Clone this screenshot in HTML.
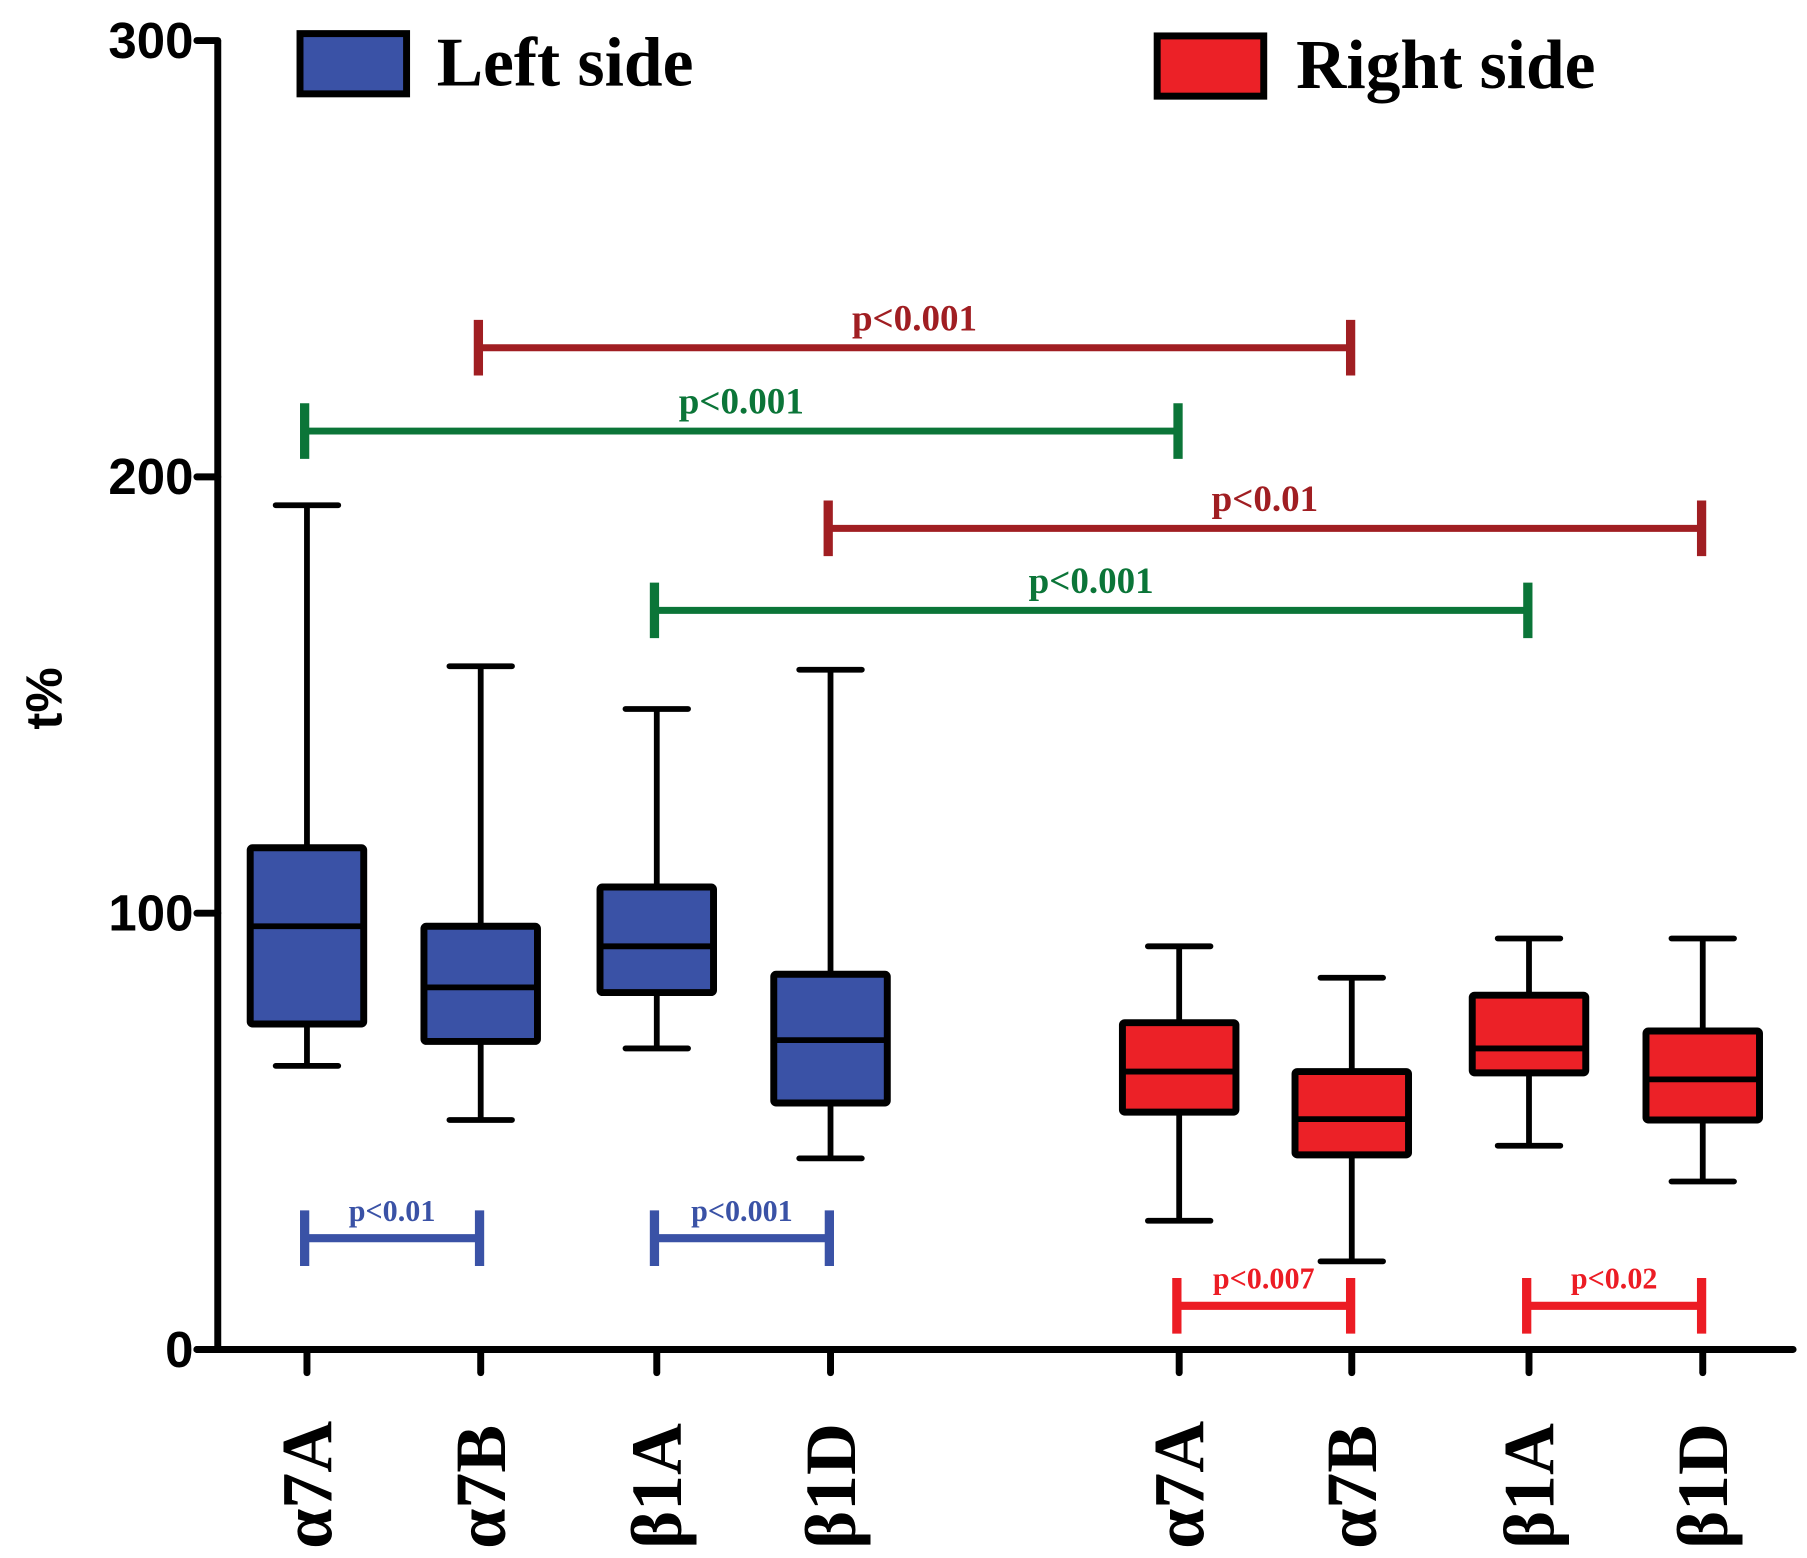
<!DOCTYPE html>
<html><head><meta charset="utf-8"><style>html,body{margin:0;padding:0;background:#fff}svg{display:block}</style></head>
<body>
<svg id="chart" width="1807" height="1558" viewBox="0 0 1560 1345" xmlns="http://www.w3.org/2000/svg">
<g id="axes"></g><g id="boxes"></g><g id="sig"></g>
<g>
<rect x="259" y="29" width="92" height="52" fill="#3a52a6" stroke="#000" stroke-width="6"/>
<text x="377" y="74" font-family="Liberation Serif, serif" font-weight="bold" font-size="60">Left side</text>
<rect x="999" y="31" width="92" height="52" fill="#ec2127" stroke="#000" stroke-width="6"/>
<text x="1119" y="76" font-family="Liberation Serif, serif" font-weight="bold" font-size="60">Right side</text>
</g>
<text transform="translate(53,603) rotate(-90)" text-anchor="middle" font-family="Liberation Sans, sans-serif" font-weight="bold" font-size="44">t%</text>
</svg>
<script>
const categories = ["α7A","α7B","β1A","β1D","α7A","α7B","β1A","β1D"];
const groups = ["left","left","left","left","right","right","right","right"];
const whiskerMax = [193.5,156.6,146.8,155.8,92.4,85.2,94.2,94.2];
const q3 = [115,97,106,86,74.9,63.7,81.2,73];
const median = [97,83,92.4,70.9,63.7,52.8,69,61.9];
const q1 = [74.6,70.6,81.8,56.5,54.4,44.6,63.4,52.6];
const whiskerMin = [65,52.6,69,43.8,29.5,20.2,46.7,38.5];
const yTicks = [0,100,200,300];
const sigFrom = [1,0,3,2,0,2,4,6];
const sigTo = [5,4,7,6,1,3,5,7];
const sigValue = [229.6,210.5,188.2,169.4,25.5,25.5,10,10];
const sigLabels = ["p<0.001","p<0.001","p<0.01","p<0.001","p<0.01","p<0.001","p<0.007","p<0.02"];
const sigColors = ["#a01e22","#0b7538","#a01e22","#0b7538","#3a52a6","#3a52a6","#ec1c24","#ec1c24"];

const NS="http://www.w3.org/2000/svg";
const catX=[265,415,567,717,1018,1167,1320,1470];
function y(v){return 1165 - v*(1130/300);}
function x(i){return catX[i];}
function mk(tag,attrs,parent){const e=document.createElementNS(NS,tag);for(const k in attrs)e.setAttribute(k,attrs[k]);parent.appendChild(e);return e;}
const axes=document.getElementById('axes'),boxes=document.getElementById('boxes'),sig=document.getElementById('sig');

let e=mk('line',{x1:188,y1:y(300),x2:188,y2:y(0)+2,stroke:'#000','stroke-width':6},axes);


e=mk('line',{x1:170,y1:y(0),x2:1548,y2:y(0),stroke:'#000','stroke-width':6,'stroke-linecap':'round'},axes);


yTicks.forEach(t=>{
  let l=mk('line',{x1:170,y1:y(t),x2:188,y2:y(t),stroke:'#000','stroke-width':6,'stroke-linecap':'round'},axes);
  
  
  let tx=mk('text',{x:167,y:y(t)+15,'text-anchor':'end','font-family':'Liberation Sans, sans-serif','font-weight':'bold','font-size':44},axes);
  tx.textContent=t;
  
  
});
categories.forEach((c,i)=>{
  let l=mk('line',{x1:x(i),y1:y(0),x2:x(i),y2:y(0)+20,stroke:'#000','stroke-width':6,'stroke-linecap':'round'},axes);
  
  
  let tx=mk('text',{transform:`translate(${x(i)+21},1337) rotate(-90)`,'font-family':'Liberation Serif, serif','font-weight':'bold','font-size':62},axes);
  tx.textContent=c;
  
  
});
categories.forEach((c,i)=>{
  const g=mk('g',{},boxes);
  
  
  const cx=x(i),col=groups[i]==='left'?'#3a52a6':'#ec2127',sw=5;
  mk('line',{x1:cx,y1:y(whiskerMax[i]),x2:cx,y2:y(whiskerMin[i]),stroke:'#000','stroke-width':sw},g);
  mk('line',{x1:cx-27,y1:y(whiskerMax[i]),x2:cx+27,y2:y(whiskerMax[i]),stroke:'#000','stroke-width':sw,'stroke-linecap':'round'},g);
  mk('line',{x1:cx-27,y1:y(whiskerMin[i]),x2:cx+27,y2:y(whiskerMin[i]),stroke:'#000','stroke-width':sw,'stroke-linecap':'round'},g);
  mk('rect',{x:cx-49,y:y(q3[i]),width:98,height:y(q1[i])-y(q3[i]),fill:col,stroke:'#000','stroke-width':6,rx:2},g);
  mk('line',{x1:cx-49,y1:y(median[i]),x2:cx+49,y2:y(median[i]),stroke:'#000','stroke-width':sw},g);
});
sigLabels.forEach((lab,i)=>{
  const g=mk('g',{},sig);
  
  
  const x1=x(sigFrom[i])-2,x2=x(sigTo[i])-1,yy=y(sigValue[i]),c=sigColors[i];
  const big=i<4;
  mk('line',{x1:x1,y1:yy,x2:x2,y2:yy,stroke:c,'stroke-width':big?6:7},g);
  mk('line',{x1:x1,y1:yy-24,x2:x1,y2:yy+24,stroke:c,'stroke-width':8},g);
  mk('line',{x1:x2,y1:yy-24,x2:x2,y2:yy+24,stroke:c,'stroke-width':8},g);
  const t=mk('text',{x:(x1+x2)/2,y:yy-15,'text-anchor':'middle',fill:c,'font-family':'Liberation Serif, serif','font-weight':'bold','font-size':big?32:26},g);
  t.textContent=lab;
});
</script>
</body></html>
